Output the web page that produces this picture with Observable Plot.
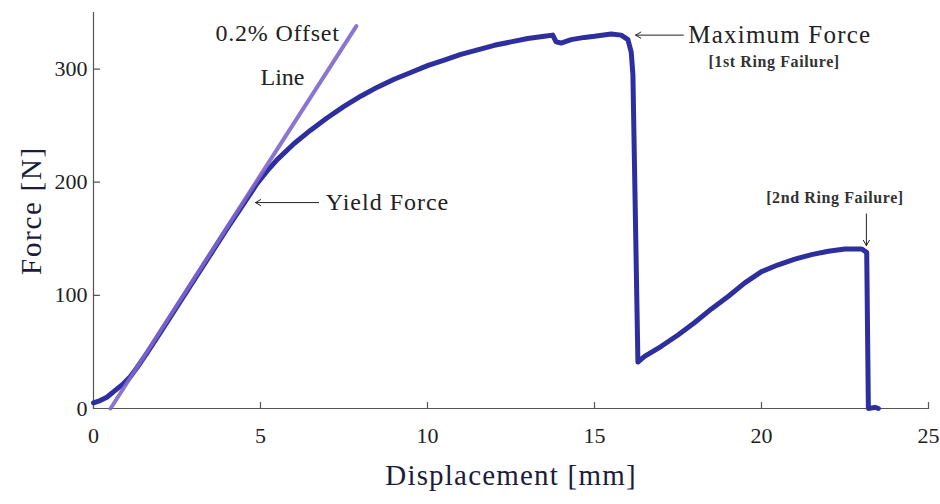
<!DOCTYPE html>
<html>
<head>
<meta charset="utf-8">
<script src="https://cdn.jsdelivr.net/npm/d3@7"></script>
<script src="https://cdn.jsdelivr.net/npm/@observablehq/plot@0.6"></script>
<style>
  html, body { margin: 0; padding: 0; background: #fff; }
  #chart svg { display: block; }
</style>
</head>
<body>
<div id="chart"></div>
<script>
// Force–displacement record of the ring specimen (displacement in mm, force in N)
const displacement = [
  0, 0.2, 0.4, 0.65, 0.9, 1.1, 1.3, 1.6, 2.0, 2.5, 3.0, 3.5, 4.0, 4.5, 4.9,
  5.2, 5.5, 6.0, 6.5, 7.0, 7.5, 8.0, 8.5, 9.0, 9.5, 10.0, 10.5, 11.0, 11.5,
  12.0, 12.5, 13.0, 13.5, 13.75, 13.85, 14.0, 14.3, 14.7, 15.0, 15.5, 15.8,
  16.0, 16.1, 16.15, 16.3, 16.5, 17.0, 17.5, 18.0, 18.5, 19.0, 19.5, 20.0,
  20.5, 21.0, 21.5, 22.0, 22.5, 23.0, 23.15, 23.2, 23.4, 23.5
];
const force = [
  5, 7, 10, 16, 22, 28, 36, 49, 67, 90, 113, 136, 159, 181, 199,
  210, 220, 234, 246, 257, 267, 276, 284, 291, 297, 303, 308, 313, 317,
  321, 324, 327, 329, 330, 324, 323, 326, 328, 329, 331, 330,
  326, 315, 295, 41, 46, 55, 65, 76, 88, 99, 111, 121,
  127, 132, 136, 139, 141, 141, 138, 0, 1, 0
];

// 0.2% offset line, drawn between its two end points
const offsetX = [0.51, 7.87];
const offsetF = [0, 338];

const xTicks = [0, 5, 10, 15, 20, 25];
const yTicks = [0, 100, 200, 300];

const curve = displacement.map((d, i) => ({x: d, y: force[i]}));
const offsetLine = offsetX.map((d, i) => ({x: d, y: offsetF[i]}));

const serif = "'Liberation Serif', 'DejaVu Serif', serif";
const ink = "#222";

// short inward tick, drawn from the anchor point
const tickShape = {draw(ctx, l) { ctx.moveTo(0, 0); ctx.lineTo(0, -l); }};

const chart = Plot.plot({
  width: 940,
  height: 504,
  marginLeft: 93,
  marginRight: 12,
  marginTop: 12,
  marginBottom: 96,
  style: {fontFamily: serif, color: ink, background: "#fff"},
  x: {domain: [0, 25]},
  y: {domain: [0, 350]},
  marks: [
    // axis lines
    Plot.ruleY([0], {x1: 0, x2: 25, stroke: "#555", strokeWidth: 1.2}),
    Plot.ruleX([0], {y1: 0, y2: 350, stroke: "#555", strokeWidth: 1.2}),
    // inward tick marks
    Plot.vector(xTicks, {x: d => d, y: 0, length: 6, rotate: 0, anchor: "start", shape: tickShape, stroke: "#555", strokeWidth: 1.2}),
    Plot.vector(yTicks, {x: 0, y: d => d, length: 6, rotate: 90, anchor: "start", shape: tickShape, stroke: "#555", strokeWidth: 1.2}),
    // tick labels
    Plot.axisX({ticks: xTicks, tickSize: 0, tickPadding: 19, fontSize: 22, label: null, fill: ink}),
    Plot.axisY({ticks: yTicks, tickSize: 0, tickPadding: 6, fontSize: 22, label: null, fill: ink}),
    // axis titles
    Plot.text(["Displacement [mm]"], {frameAnchor: "bottom", dy: 76, fontSize: 29, fill: "#1c1c3a"}),
    Plot.text(["Force [N]"], {frameAnchor: "left", textAnchor: "middle", dx: -62, rotate: -90, fontSize: 29, fill: "#1c1c3a"}),
    // measured curve
    Plot.line(curve, {x: "x", y: "y", stroke: "#2e2f9f", strokeWidth: 5, strokeLinejoin: "round", strokeLinecap: "round"}),
    // 0.2% offset line
    Plot.line(offsetLine, {x: "x", y: "y", stroke: "#7f66cc", strokeWidth: 4, strokeOpacity: 0.9}),
    // annotations
    Plot.text(["0.2% Offset"], {x: 3.65, y: 332, textAnchor: "start", fontSize: 24, fill: ink}),
    Plot.text(["Line"], {x: 5.0, y: 293, textAnchor: "start", fontSize: 24, fill: ink}),
    Plot.arrow([0], {x1: 6.74, y1: 182, x2: 4.85, y2: 182, stroke: ink, strokeWidth: 1, headLength: 9}),
    Plot.text(["Yield Force"], {x: 6.95, y: 182, textAnchor: "start", fontSize: 24, fill: ink}),
    Plot.arrow([0], {x1: 17.66, y1: 330, x2: 16.23, y2: 330, stroke: ink, strokeWidth: 1, headLength: 9}),
    Plot.text(["Maximum Force"], {x: 17.81, y: 330, textAnchor: "start", fontSize: 25, fill: ink}),
    Plot.text(["[1st Ring Failure]"], {x: 18.41, y: 306, textAnchor: "start", fontSize: 16, fontWeight: "bold", fill: "#333"}),
    Plot.text(["[2nd Ring Failure]"], {x: 22.2, y: 186, fontSize: 16, fontWeight: "bold", fill: "#333"}),
    Plot.arrow([0], {x1: 23.14, y1: 172, x2: 23.14, y2: 144, stroke: ink, strokeWidth: 1, headLength: 9})
  ]
});

// wider letter spacing for the serif labels
const spacing = new Map([
  ["Displacement [mm]", 1.2],
  ["Force [N]", 1.7],
  ["0.2% Offset", 0.8],
  ["Yield Force", 1],
  ["Maximum Force", 1.2],
  ["[1st Ring Failure]", 0.6],
  ["[2nd Ring Failure]", 0.6]
]);
d3.select(chart).selectAll("text").each(function () {
  const s = spacing.get(this.textContent);
  if (s != null) this.setAttribute("letter-spacing", s + "px");
});

document.getElementById("chart").appendChild(chart);
</script>
</body>
</html>
